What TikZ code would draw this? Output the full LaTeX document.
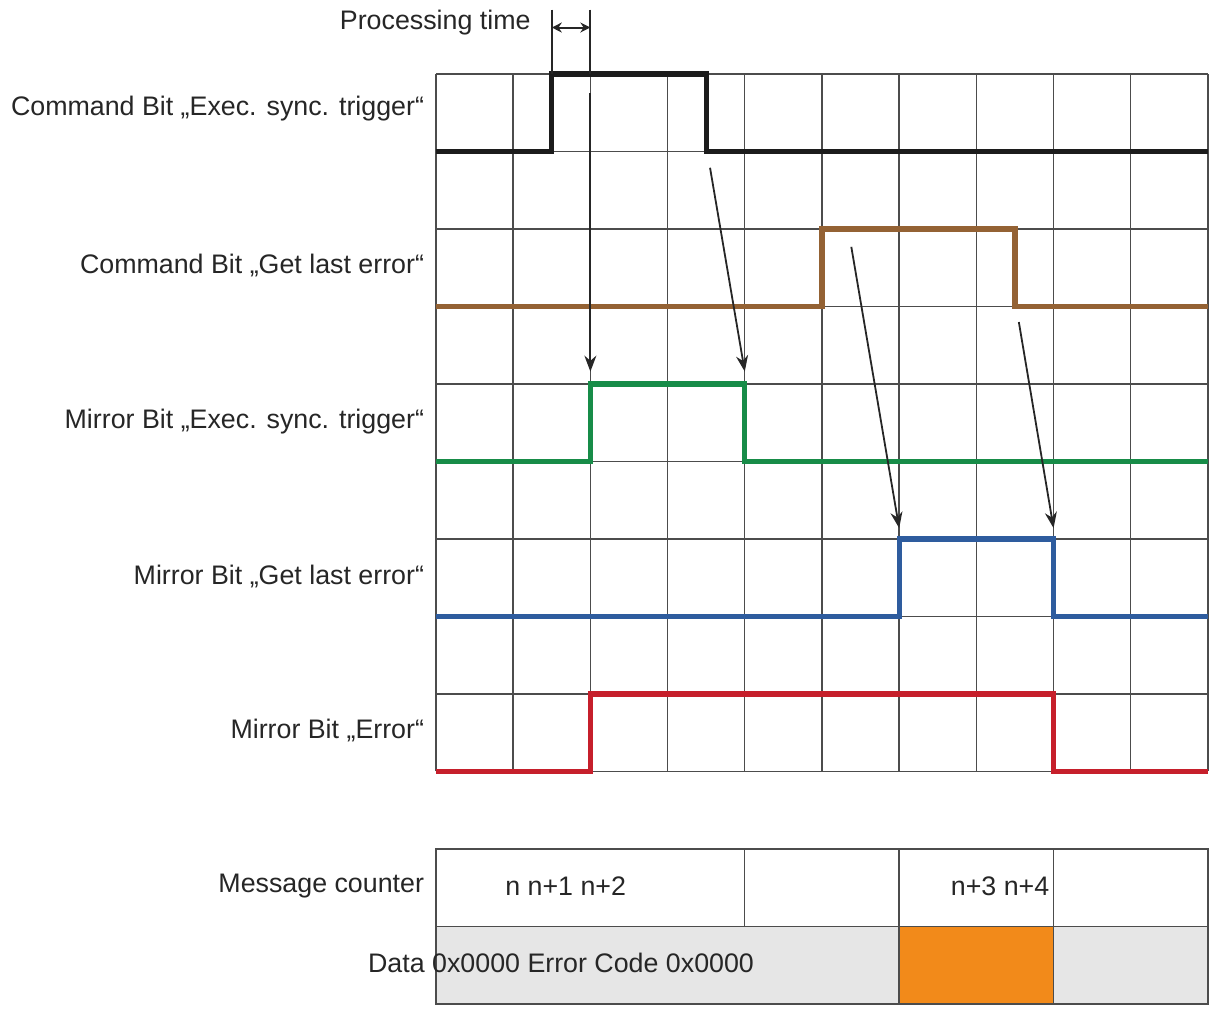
\documentclass[tikz,border=0pt]{standalone}
\usepackage{fontspec}
\setmainfont{Liberation Sans}
\usetikzlibrary{positioning, calc, arrows.meta}

\definecolor{sigdark}{HTML}{1C1C1C}
\definecolor{sigbrown}{HTML}{946234}
\definecolor{siggreen}{HTML}{178C48}
\definecolor{sigblue}{HTML}{2E5C9E}
\definecolor{sigred}{HTML}{C61F2B}
\definecolor{datagray}{HTML}{E6E6E6}
\definecolor{dataorange}{HTML}{F28A1A}

\begin{document}
\begin{tikzpicture}[x=38.6pt, y=-38.75pt]
  \newcommand\gridlinewidth{0.7pt}
  \newcommand\signalwidth{2.6pt}
  \newcommand\labelx{-0.15}

  \tikzset{gridline/.style={draw=black!70, line width=\gridlinewidth}}
  \tikzset{signal/.style={line width=\signalwidth, line join=miter}}
  \tikzset{siglabel/.style={anchor=east, text=black!85, inner sep=0pt, font=\fontsize{13.4}{16}\selectfont}}
  \tikzset{celltext/.style={text=black!85, inner sep=0pt, font=\fontsize{13.4}{16}\selectfont}}
  \tikzset{reaction/.style={draw=black!85, line width=0.9pt, -{Stealth[length=8pt, width=6pt]}}}

  \useasboundingbox (-5.648,-0.955) rectangle (10.13,12.13);

  % timing grid
  \foreach \x in {0,...,10}{
    \draw[gridline] (\x,0) -- (\x,9);
  }
  \foreach \y in {0,...,9}{
    \draw[gridline] (0,\y) -- (10,\y);
  }

  % waveforms: low level / high level / rise / fall / colour
  \foreach \lo/\hi/\rise/\fall/\col in {1/0/1.5/3.5/sigdark, 3/2/5/7.5/sigbrown, 5/4/2/4/siggreen, 7/6/6/8/sigblue, 9/8/2/8/sigred}{
    \draw[signal, draw=\col] (0,\lo) -| (\rise,\hi) -| (\fall,\lo) -- (10,\lo);
  }

  % signal names
  \foreach \y/\name/\txt in {0.45/cmdexec/{Command Bit „Exec. sync. trigger“}, 2.47/cmderr/{Command Bit „Get last error“}, 4.49/mirexec/{Mirror Bit „Exec. sync. trigger“}, 6.48/mirerr/{Mirror Bit „Get last error“}, 8.47/mirerror/{Mirror Bit „Error“}, 10.48/msgcnt/{Message counter}}{
    \node[siglabel] (lbl-\name) at (\labelx,\y) {\txt};
  }

  % processing time
  \coordinate (pt-a) at (1.5,-0.83);
  \coordinate (pt-b) at (2,-0.83);
  \draw[draw=black!85, line width=1pt] (pt-a) -- (1.5,0);
  \draw[draw=black!85, line width=1pt] (pt-b) -- (2,0);
  \coordinate (pt-l) at (1.5,-0.6);
  \coordinate (pt-r) at (2,-0.6);
  \draw[draw=black!85, line width=1pt, {Stealth[length=5pt, width=5pt]}-{Stealth[length=5pt, width=5pt]}] (pt-l) -- (pt-r);
  \node[siglabel] (lbl-pt) at (1.23,-0.67) {Processing time};

  % reactions
  \coordinate (a1s) at (2,0.25);
  \coordinate (a1e) at (2,3.84);
  \coordinate (a2s) at (3.55,1.21);
  \coordinate (a2e) at (4,3.84);
  \coordinate (a3s) at (5.38,2.23);
  \coordinate (a3e) at (6,5.86);
  \coordinate (a4s) at (7.55,3.2);
  \coordinate (a4e) at (8,5.86);
  \foreach \s/\e in {a1s/a1e, a2s/a2e, a3s/a3e, a4s/a4e}{
    \draw[reaction] (\s) -- (\e);
  }

  % message counter and data
  \fill[datagray] (0,11) rectangle (10,12);
  \fill[dataorange] (6,11) rectangle (8,12);
  \draw[gridline] (0,10) rectangle (10,12);
  \draw[gridline] (0,11) -- (10,11);
  \draw[gridline] (4,10) -- (4,11);
  \draw[gridline] (6,10) -- (6,12);
  \draw[gridline] (8,10) -- (8,12);

  \node[celltext] (cnt-a) at (1.68,10.48) {n n+1 n+2};
  \node[celltext, anchor=east] (cnt-b) at (7.95,10.48) {n+3 n+4};
  \node[celltext] (data) at (1.62,11.47) {Data 0x0000 Error Code 0x0000};
\end{tikzpicture}
\end{document}
